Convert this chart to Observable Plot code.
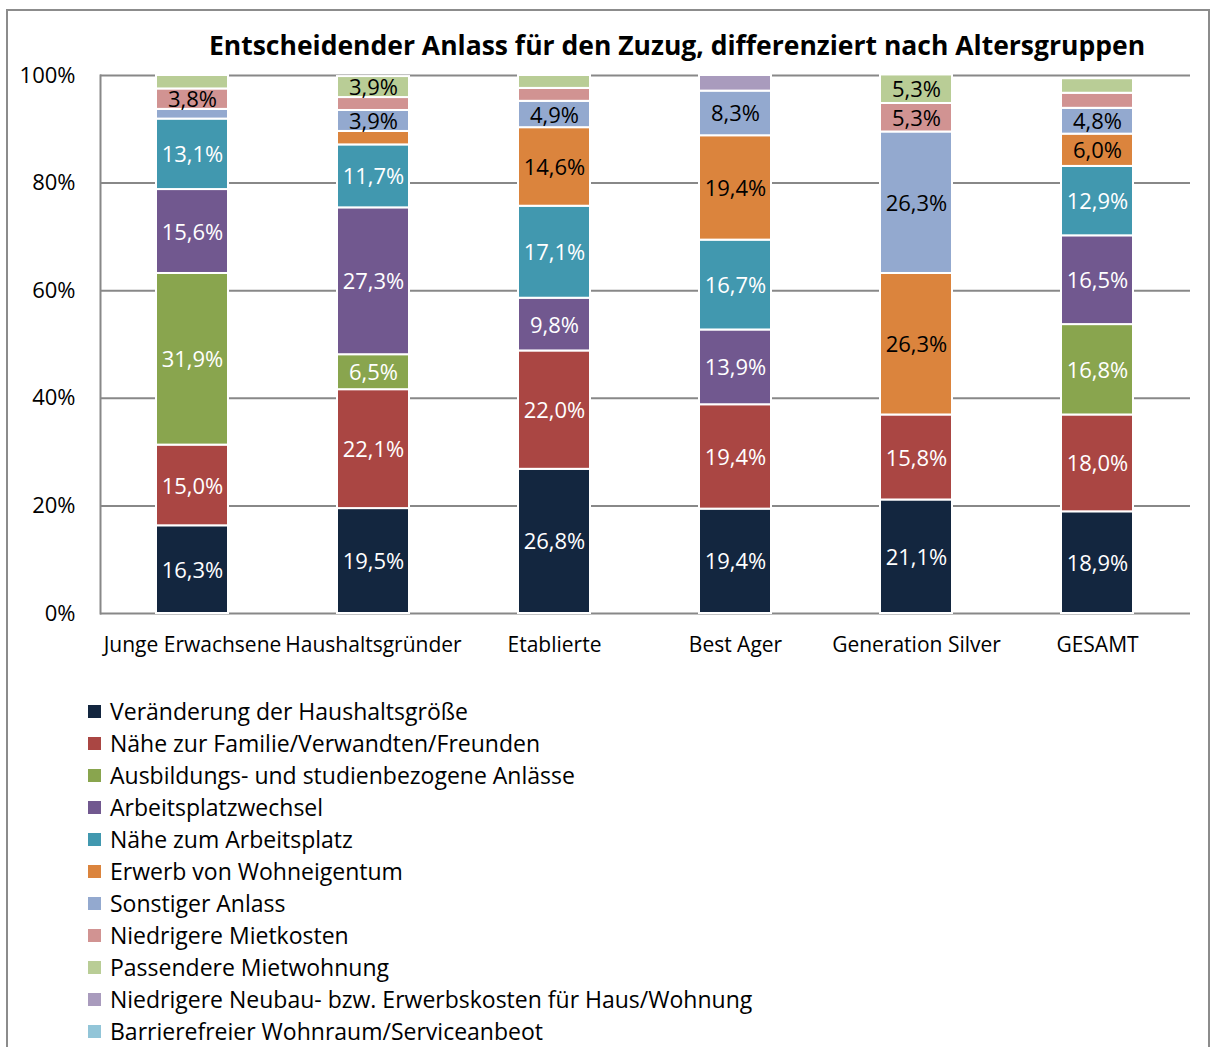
<!DOCTYPE html>
<html><head><meta charset="utf-8">
<script src="https://cdn.jsdelivr.net/npm/d3@7"></script>
<script src="https://cdn.jsdelivr.net/npm/@observablehq/plot@0.6"></script>
<style>
body{margin:0;background:#fff;font-family:"Open Sans",sans-serif;}
#wrap{position:relative;width:1216px;height:1047px;overflow:hidden;background:#fff;}
#border{position:absolute;left:6px;top:9px;width:1204px;height:1100px;border:2px solid #8c8c8c;box-sizing:border-box;}
#title{position:absolute;top:27px;left:110px;width:1134px;text-align:center;font-weight:bold;font-size:26.5px;color:#000;white-space:nowrap;}
#chart{position:absolute;left:0;top:55px;}
#legend{position:absolute;left:88px;top:695px;font-size:23px;color:#000;}
#legend .item{height:32px;line-height:32px;display:flex;align-items:center;white-space:nowrap;}
#legend .sw{width:13px;height:13px;margin-right:9px;flex:none;}
</style>
</head><body>
<div id="wrap">
<div id="border"></div>
<div id="title">Entscheidender Anlass für den Zuzug, differenziert nach Altersgruppen</div>
<div id="chart"></div>
<div id="legend"></div>
</div>
<script>
const categories = ["Junge Erwachsene","Haushaltsgründer","Etablierte","Best Ager","Generation Silver","GESAMT"];
const series = [
  "Veränderung der Haushaltsgröße",
  "Nähe zur Familie/Verwandten/Freunden",
  "Ausbildungs- und studienbezogene Anlässe",
  "Arbeitsplatzwechsel",
  "Nähe zum Arbeitsplatz",
  "Erwerb von Wohneigentum",
  "Sonstiger Anlass",
  "Niedrigere Mietkosten",
  "Passendere Mietwohnung",
  "Niedrigere Neubau- bzw. Erwerbskosten für Haus/Wohnung",
  "Barrierefreier Wohnraum/Serviceanbeot"
];
const colors = ["#13263f","#aa4643","#89a54e","#71588f","#4198af","#db843d","#93a9cf","#d19392","#b9cd96","#a99bbd","#92c5d8"];
const veraenderung        = [16.3, 19.5, 26.8, 19.4, 21.1, 18.9];
const familie             = [15.0, 22.1, 22.0, 19.4, 15.8, 18.0];
const ausbildung          = [31.9,  6.5,  0.0,  0.0,  0.0, 16.8];
const arbeitsplatzwechsel = [15.6, 27.3,  9.8, 13.9,  0.0, 16.5];
const naeheArbeitsplatz   = [13.1, 11.7, 17.1, 16.7,  0.0, 12.9];
const erwerb              = [ 0.0,  2.5, 14.6, 19.4, 26.3,  6.0];
const sonstiger           = [ 1.8,  3.9,  4.9,  8.3, 26.3,  4.8];
const mietkosten          = [ 3.8,  2.4,  2.4,  0.0,  5.3,  2.8];
const passendere          = [ 2.5,  3.9,  2.4,  0.0,  5.3,  2.7];
const neubau              = [ 0.0,  0.0,  0.0,  2.9,  0.0,  0.0];
const barrierefrei        = [ 0.0,  0.0,  0.0,  0.0,  0.0,  0.0];
const yTicks = [0, 20, 40, 60, 80, 100];

const seriesValues = [veraenderung, familie, ausbildung, arbeitsplatzwechsel, naeheArbeitsplatz,
  erwerb, sonstiger, mietkosten, passendere, neubau, barrierefrei];
const darkSeries = new Set(series.slice(0, 5));
const data = [];
categories.forEach((c, ci) => {
  series.forEach((s, si) => {
    data.push({group: c, series: s, value: seriesValues[si][ci]});
  });
});
const fmt = v => v.toFixed(1).replace(".", ",") + "%";
const font = "'Open Sans', sans-serif";

const chart = Plot.plot({
  width: 1216,
  height: 608,
  marginTop: 20,
  marginBottom: 50,
  marginLeft: 100,
  marginRight: 26,
  style: {fontFamily: font, fontSize: "20px", color: "#000", background: "transparent"},
  x: {domain: categories, paddingInner: 0.6, paddingOuter: 0.3, label: null},
  y: {domain: [0, 100], label: null},
  color: {domain: series, range: colors},
  marks: [
    Plot.ruleY(yTicks, {stroke: "#888888", strokeWidth: 2}),
    Plot.frame({anchor: "left", stroke: "#888888", strokeWidth: 2}),
    Plot.barY(data, {x: "group", y: "value", fill: "series", stroke: "white", strokeWidth: 2}),
    Plot.text(data, Plot.stackY({x: "group", y: "value",
      text: d => (darkSeries.has(d.series) && d.value >= 3.5) ? fmt(d.value) : null,
      fill: "white", fontSize: 22, dy: 1})),
    Plot.text(data, Plot.stackY({x: "group", y: "value",
      text: d => (!darkSeries.has(d.series) && d.value >= 3.5) ? fmt(d.value) : null,
      fill: "black", fontSize: 22, dy: 1})),
    Plot.axisY({ticks: yTicks, tickFormat: d => d + "%", tickSize: 0, tickPadding: 25, fontSize: 22, label: null}),
    Plot.axisX({tickSize: 0, tickPadding: 24, fontSize: 21, label: null})
  ]
});
document.getElementById("chart").appendChild(chart);

const legend = document.getElementById("legend");
series.forEach((s, i) => {
  const item = document.createElement("div");
  item.className = "item";
  const sw = document.createElement("span");
  sw.className = "sw";
  sw.style.background = colors[i];
  const t = document.createElement("span");
  t.textContent = s;
  item.appendChild(sw);
  item.appendChild(t);
  legend.appendChild(item);
});
</script>
</body></html>
